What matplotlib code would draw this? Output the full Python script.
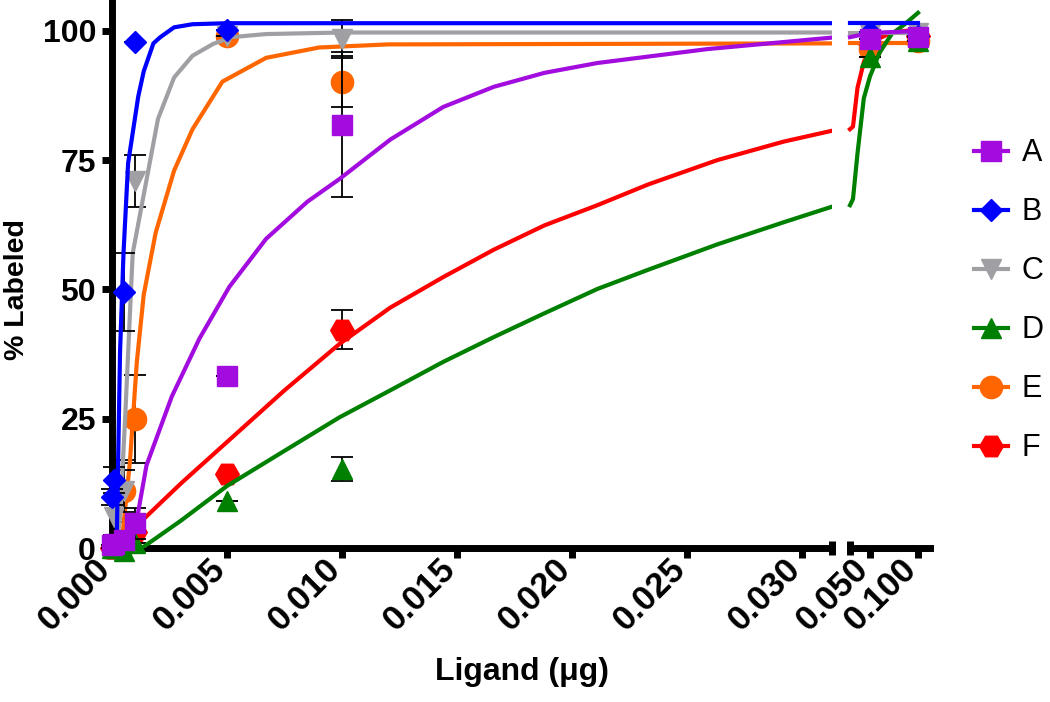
import numpy as np
import matplotlib.pyplot as plt
from matplotlib.lines import Line2D
from matplotlib.transforms import ScaledTranslation

plt.rcParams['font.family'] = ['Liberation Sans', 'DejaVu Sans']

names = ['A', 'B', 'C', 'D', 'E', 'F']
colors = ['#A20CDE', '#0000FF', '#A0A0A4', '#008000', '#FF6600', '#FF0000']
markers = ['s', 'D', 'v', '^', 'o', 'H']
msizes = [15, 11.5, 15, 15, 16, 17]

# measured points (mean, error), nan = not visible
doses = [0.0, 0.0001, 0.0005, 0.001, 0.005, 0.01, 0.05, 0.1]
A_mean = [0.5, 0.8, 1.5, 4.8, 33.2, 81.9, 98.5, 98.8]
A_err = [0, 0, 0, 3, 0, 14, 0, 0]
B_mean = [9.9, 13.2, 49.5, 97.9, 100.2, np.nan, 99.8, 99.0]
B_err = [1.5, 2.5, 7.5, 0, 0, 0, 0, 0]
C_mean = [np.nan, 6.0, 11.0, 71.0, 99.0, 98.5, 99.5, 99.6]
C_err = [0, 3.5, 4, 5, 0, 3.7, 0, 0]
D_mean = [0.0, 0.0, -0.5, 1.0, 9.1, 15.3, 95.0, 98.0]
D_err = [0, 0, 0, 0, 0, 2.3, 0, 0]
E_mean = [np.nan, np.nan, 11.0, 24.9, 99.0, 90.2, 96.5, 98.0]
E_err = [0, 0, 6, 8.5, 0, 5, 0, 0]
F_mean = [0.0, 0.0, 0.5, 3.0, 14.4, 42.2, 97.5, 99.0]
F_err = [0, 0, 0, 0, 0, 3.8, 0, 0]

# fitted curves as drawn (left segment / right segment)
A_cx = [0.0008, 0.0011, 0.0015, 0.0026, 0.0038, 0.0051, 0.0067, 0.0085, 0.0099, 0.0121,
        0.0144, 0.0166, 0.0188, 0.0211, 0.0259, 0.0315]
A_cy = [0, 6, 16, 29.3, 40.5, 50.5, 59.8, 67, 71.4, 79, 85.3, 89.2, 91.9, 93.8, 96.5, 98.8]
A_rx = [0.0292, 0.05, 0.1]
A_ry = [98.8, 99.6, 100.0]

B_cx = [0.0002, 0.00035, 0.0005, 0.0007, 0.00114, 0.00138, 0.0018, 0.0021, 0.0027,
        0.0035, 0.005, 0.0315]
B_cy = [0, 38, 57, 74.4, 87.3, 92.2, 97.6, 98.8, 100.7, 101.3, 101.5, 101.5]
B_rx = [0.0292, 0.1]
B_ry = [101.5, 101.5]

C_cx = [0.0002, 0.00035, 0.00057, 0.0009, 0.00145, 0.002, 0.0027, 0.0035, 0.0044,
        0.0052, 0.0067, 0.01, 0.0315]
C_cy = [0, 6, 25, 57, 70, 83, 91, 95.2, 97.5, 98.8, 99.4, 99.7, 99.7]
C_rx = [0.0292, 0.1]
C_ry = [99.7, 99.7]

D_cx = [0.0013, 0.003, 0.005, 0.0075, 0.0099, 0.0121, 0.0144, 0.0166, 0.0188, 0.0211,
        0.0233, 0.0263, 0.0292, 0.0315]
D_cy = [0, 5.3, 12, 18.8, 25.3, 30.5, 36, 40.8, 45.4, 50.1, 53.8, 58.7, 63, 66.3]
D_rx = [0.0292, 0.0323, 0.037, 0.0436, 0.05, 0.06, 0.0726, 0.0855, 0.1]
D_ry = [66.3, 67.5, 76.3, 87, 91.2, 95.8, 99.4, 101.2, 103.5]

E_cx = [0.0004, 0.00078, 0.00108, 0.00138, 0.0019, 0.0027, 0.0035, 0.0048, 0.0067,
        0.009, 0.012, 0.0315]
E_cy = [0, 16.7, 36, 49, 61, 73, 81, 90.2, 94.8, 96.8, 97.4, 97.6]
E_rx = [0.0292, 0.1]
E_ry = [97.6, 97.6]

F_cx = [0.0008, 0.001, 0.003, 0.005, 0.0075, 0.0099, 0.0121, 0.0144, 0.0166, 0.0188,
        0.0211, 0.0233, 0.0263, 0.0292, 0.0315]
F_cy = [0, 4, 12.5, 20.5, 30.5, 39.5, 46.5, 52.4, 57.7, 62.4, 66.3, 70.3, 75, 78.6, 80.9]
F_rx = [0.0292, 0.0323, 0.037, 0.0436, 0.05, 0.06, 0.073, 0.1]
F_ry = [81, 81.5, 89, 94, 96.5, 98.6, 99.7, 100.3]

means = [A_mean, B_mean, C_mean, D_mean, E_mean, F_mean]
errs = [A_err, B_err, C_err, D_err, E_err, F_err]
left_curves = [(A_cx, A_cy), (B_cx, B_cy), (C_cx, C_cy), (D_cx, D_cy), (E_cx, E_cy), (F_cx, F_cy)]
right_curves = [(A_rx, A_ry), (B_rx, B_ry), (C_rx, C_ry), (D_rx, D_ry), (E_rx, E_ry), (F_rx, F_ry)]

left_ticks = [0.0, 0.005, 0.01, 0.015, 0.02, 0.025, 0.03]
right_ticks = [0.05, 0.1]
y_ticks = [0, 25, 50, 75, 100]

fig = plt.figure(figsize=(10.5, 7.02), dpi=100)
W, H = 1050, 702
y0, y1 = 548, 2.0
axL = fig.add_axes([112 / W, 1 - y0 / H, 720 / W, (y0 - y1) / H])
axR = fig.add_axes([850 / W, 1 - y0 / H, 80 / W, (y0 - y1) / H])

for ax in (axL, axR):
    ax.set_ylim(0, 105.6)
    ax.spines['top'].set_visible(False)
    ax.spines['right'].set_visible(False)
    for s in ax.spines.values():
        s.set_linewidth(5)
    ax.tick_params(width=5, length=7.5, labelsize=23, pad=4)
axL.set_xlim(0, 0.0313)
axR.set_xlim(0.0292, 0.1125)
axR.spines['left'].set_visible(False)
axR.set_yticks([])

axL.set_yticks(y_ticks)
axL.set_yticklabels([str(v) for v in y_ticks], fontweight='bold')
shift = ScaledTranslation(-0.07, 0, fig.dpi_scale_trans)
for ax, ticks in ((axL, left_ticks), (axR, right_ticks)):
    ax.set_xticks(ticks)
    ax.set_xticklabels(['%.3f' % v for v in ticks], fontweight='bold', fontsize=25,
                       rotation=45, ha='right', va='center', rotation_mode='anchor')
    for lab in ax.get_xticklabels():
        lab.set_transform(lab.get_transform() + shift)

# break marks at the segment ends
axL.plot([1, 1], [-0.013, 0.013], transform=axL.transAxes, color='k', lw=5,
         clip_on=False, solid_capstyle='butt')
axR.plot([0, 0], [-0.013, 0.013], transform=axR.transAxes, color='k', lw=5,
         clip_on=False, solid_capstyle='butt')

for i in range(len(names)):
    z = 3 + (len(names) - i) * 0.1
    x = np.array(doses)
    y = np.array(means[i], dtype=float)
    e = np.array(errs[i], dtype=float)
    for ax, sel in ((axL, x < 0.04), (axR, x > 0.04)):
        eb = ax.errorbar(x[sel], y[sel], yerr=e[sel], fmt='none', ecolor='black',
                         elinewidth=1.3, capsize=8, capthick=1.3, zorder=z)
        for art in list(eb.lines[1]) + list(eb.lines[2]):
            art.set_clip_on(False)
        ax.plot(x[sel], y[sel], linestyle='none', marker=markers[i], ms=msizes[i],
                color=colors[i], mec=colors[i], zorder=z + 0.02, clip_on=False)
    axL.plot(left_curves[i][0], left_curves[i][1], color=colors[i], lw=3,
             zorder=z + 0.01, solid_joinstyle='round')
    axR.plot(right_curves[i][0], right_curves[i][1], color=colors[i], lw=3,
             zorder=z + 0.01, solid_joinstyle='round', clip_on=False)

handles = [Line2D([], [], color=colors[i], marker=markers[i], ms=msizes[i], lw=3)
           for i in range(len(names))]
fig.legend(handles, names, loc='upper left', bbox_to_anchor=(962 / W, 1 - 126 / H),
           frameon=False, fontsize=22, handlelength=1.1, handletextpad=0.45,
           labelspacing=0.95, borderaxespad=0)

fig.text(17 / W, 1 - 290 / H, '% Labeled', rotation=90, ha='center', va='center',
         fontsize=20.5, fontweight='bold')
fig.text(522 / W, 1 - 672 / H, 'Ligand (\u03bcg)', ha='center', va='center',
         fontsize=23, fontweight='bold')

fig.savefig('out.png', dpi=100)
